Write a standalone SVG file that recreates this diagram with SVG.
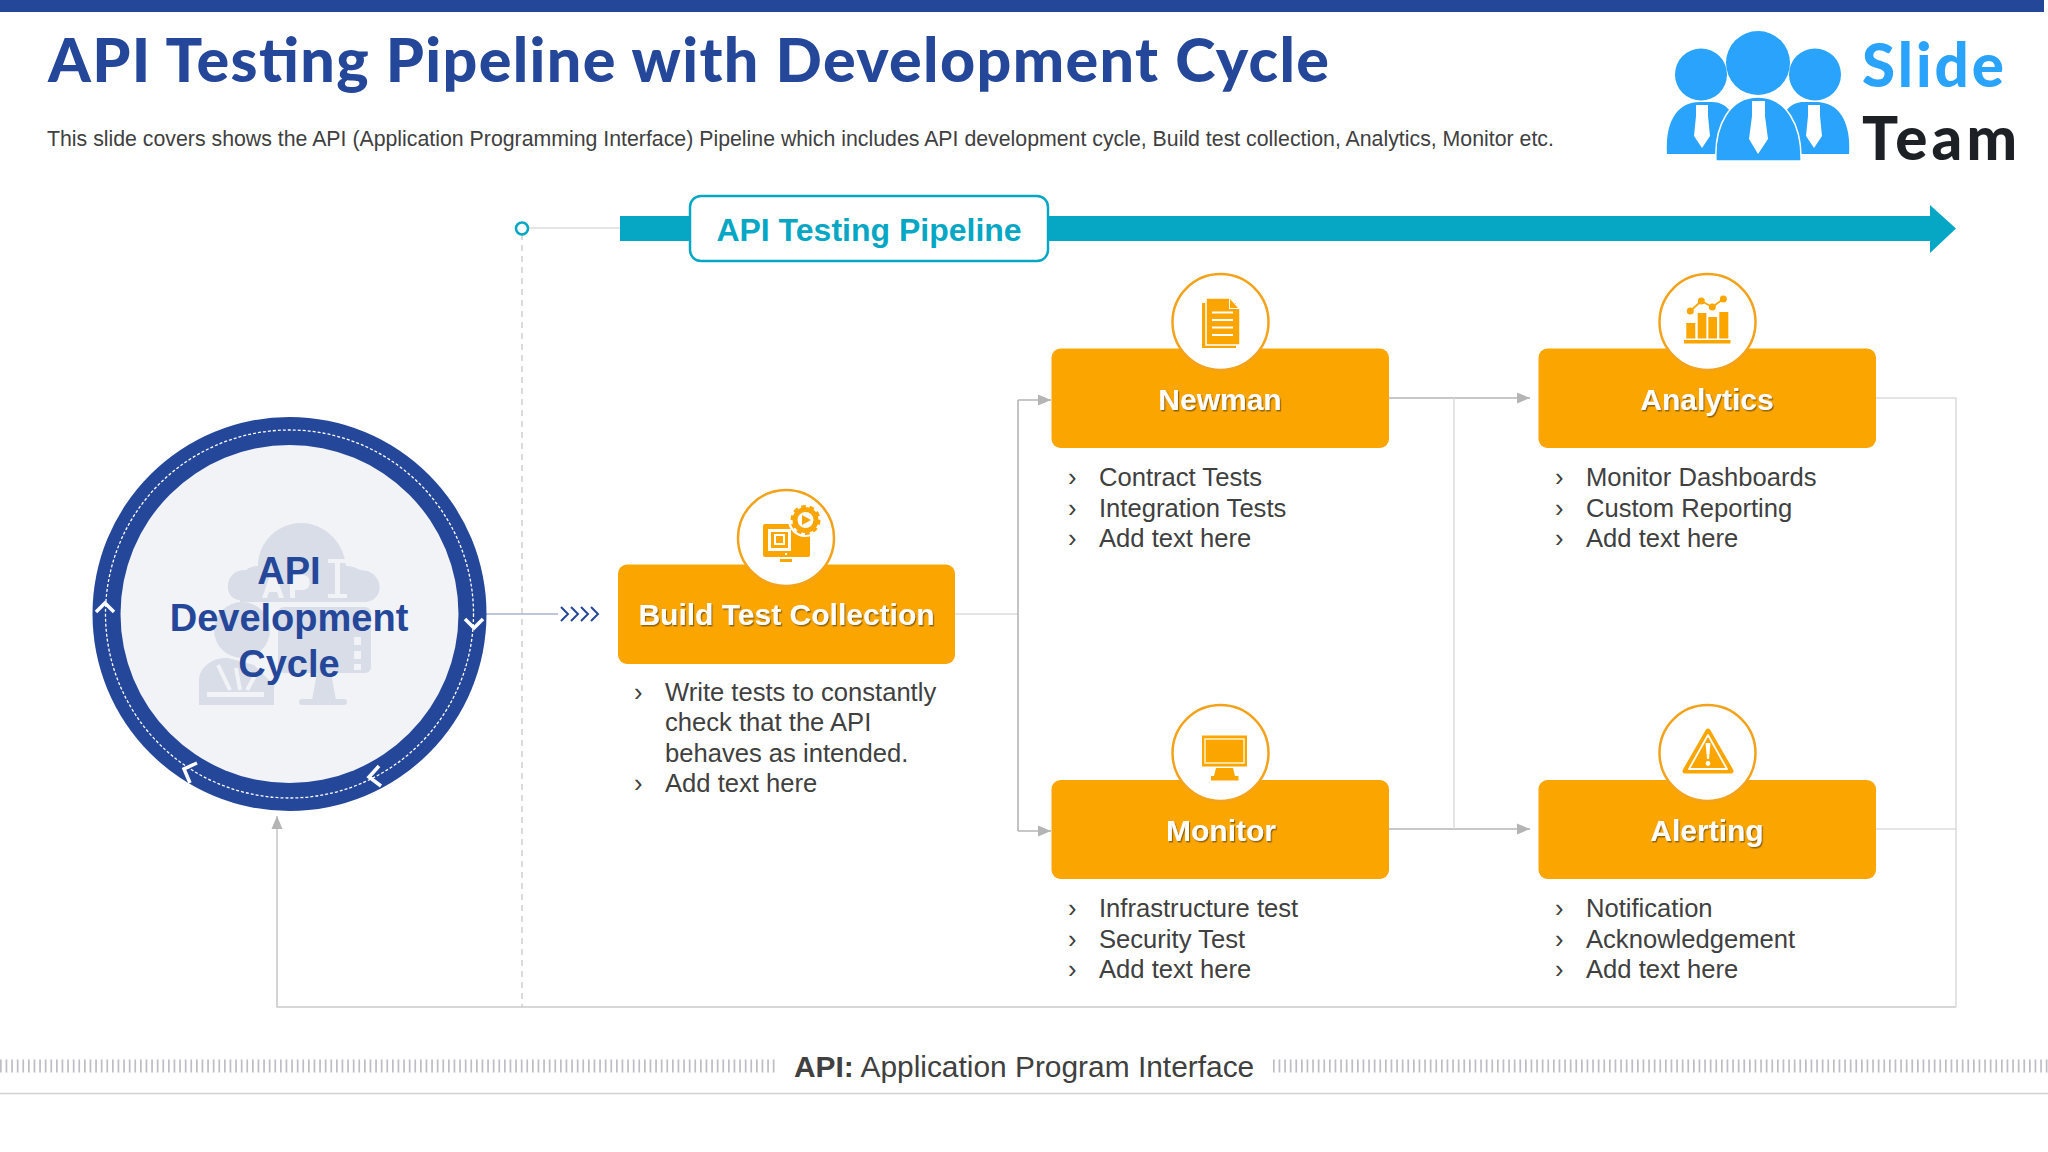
<svg xmlns="http://www.w3.org/2000/svg" width="2048" height="1152" viewBox="0 0 2048 1152">
<style>
text{font-family:"Liberation Sans",Arial,sans-serif}
.box{fill:#faa500}
.halo{fill:#fff;stroke:#f3a21b;stroke-width:2.5}
.ttl{font-weight:700;font-size:30px;fill:#fff;text-anchor:middle;filter:url(#shadow)}
.li{font-size:25.6px;fill:#404040}
.ic{fill:#faa500}
.wl{stroke:#fff;stroke-width:2;fill:none}
.c1{fill:none;stroke:#b4b4b4;stroke-width:1.6}
.c2{fill:none;stroke:#dcdcdc;stroke-width:1.5}
.wm{fill:#d8dde7}
.wk{fill:#f2f3f7}
.chev{fill:none;stroke:#fff;stroke-width:3.5}
.ch2{fill:none;stroke:#24479a;stroke-width:2}
.lg{fill:#29a3fb}
.tie{fill:#fff}
.logot{font-family:Lato,"Noto Sans",sans-serif;font-size:60px;font-weight:900}
</style>
<defs>
<filter id="shadow" x="-10%" y="-20%" width="120%" height="150%"><feDropShadow dx="1.2" dy="1.5" stdDeviation="0.7" flood-color="#7a5200" flood-opacity="0.8"/></filter>
<marker id="ah" markerUnits="userSpaceOnUse" markerWidth="14" markerHeight="14" refX="13" refY="7" orient="auto"><path d="M0,1.500 L13,7 L0,12.500 Z" fill="#b4b4b4"/></marker>
</defs>
<rect width="2044" height="12" fill="#24479a"/>
<text x="48" y="82" font-size="61" font-weight="900" fill="#24479a" textLength="1281" style="font-family:Lato,'Liberation Sans',sans-serif">API Testing Pipeline with Development Cycle</text>
<text x="47" y="146" font-size="21.3" fill="#404040">This slide covers shows the API (Application Programming Interface) Pipeline which includes API development cycle, Build test collection, Analytics, Monitor etc.</text>

<g id="logo">
<circle class="lg" cx="1701" cy="74.5" r="26"/><circle class="lg" cx="1815" cy="74.5" r="26"/><circle class="lg" cx="1758" cy="63" r="32"/>
<path class="lg" d="M1667,154 C1665,125 1675,102 1700,102 L1712,102 C1730,102 1740,120 1740,154 Z"/>
<path class="lg" d="M1849,154 C1851,125 1841,102 1816,102 L1804,102 C1786,102 1776,120 1776,154 Z"/>
<path class="lg" d="M1716,161 C1714,125 1730,97 1758,97 C1786,97 1802,125 1801,161 Z" stroke="#fff" stroke-width="1.5"/>
<path class="tie" d="M1696,105 H1708 V116 L1710,136 L1702,148 L1694,136 L1696,116 Z"/>
<path class="tie" d="M1752,101 H1765 V116 L1768,139 L1758,154 L1749,139 L1752,116 Z"/>
<path class="tie" d="M1808,105 H1820 V116 L1822,136 L1814,148 L1806,136 L1808,116 Z"/>
<text class="logot" x="1862" y="87" fill="#29a3fb" textLength="142">Slide</text>
<text class="logot" x="1862" y="160" fill="#1d2125" textLength="155">Team</text>
</g>

<g id="connectors">
<path class="c2" d="M528,228 H620"/>
<path d="M522,234 V1007" fill="none" stroke="#cfcfcf" stroke-width="1.5" stroke-dasharray="6 5"/>
<path d="M486,614 H558" fill="none" stroke="#aab2d2" stroke-width="1.5"/>
<path class="c2" d="M955,614 H1018"/>
<path class="c1" d="M1018,400 H1051" marker-end="url(#ah)"/>
<path class="c1" d="M1018,400 V831"/>
<path class="c1" d="M1018,831 H1051" marker-end="url(#ah)"/>
<path class="c1" d="M1389,398 H1530" marker-end="url(#ah)"/>
<path class="c1" d="M1389,829 H1530" marker-end="url(#ah)"/>
<path class="c2" d="M1454,398 V829"/>
<path class="c2" d="M1876,398 H1956 V1007"/>
<path class="c2" d="M1876,829 H1956"/>
<path class="c1" d="M1956,1007 H277 V816" style="stroke:#cacaca" marker-end="url(#ah)"/>
</g>

<g id="pipeline">
<rect x="620" y="216" width="1312" height="25" fill="#06a7c4"/>
<path d="M1930,205 L1956,228.500 L1930,253 Z" fill="#06a7c4"/>
<rect x="690" y="196" width="358" height="65" rx="11" fill="#fff" stroke="#06a7c4" stroke-width="2.5"/>
<text x="869" y="241" font-size="32" font-weight="700" fill="#06a7c4" text-anchor="middle">API Testing Pipeline</text>
<circle cx="522" cy="228.500" r="6" fill="#fff" stroke="#06a7c4" stroke-width="2.5"/>
</g>

<g id="cycle">
<circle cx="289.500" cy="614" r="197" fill="#24479a"/>
<circle cx="289.500" cy="614" r="169" fill="#f2f3f7"/>
<circle cx="289.500" cy="614" r="184" fill="none" stroke="#fff" stroke-width="1.3" stroke-dasharray="3 2"/>
<path class="chev" d="M96,612 L105,603 L114,612"/>
<path class="chev" d="M465,619 L474,628 L483,619"/>
<path class="chev" d="M379,766 L369,777 L381,786"/>
<path class="chev" d="M197,763 L184,769 L190,783"/>
<g id="cycle-watermark">
<path class="wm" d="M240,600 C222,600 224,568 246,570 C252,566 256,566 258,566 C258,540 280,523 301,523 C324,523 344,542 346,566 C352,566 356,568 360,570 C384,570 386,600 366,602 L240,602 Z"/>
<rect class="wm" x="278" y="607" width="93" height="66" rx="6"/>
<circle class="wm" cx="242" cy="630" r="28"/>
<path class="wm" d="M199,705 V680 C199,668 212,657 228,658 L254,665 L274,685 V705 Z"/>
<path class="wm" d="M317,673 H331 L336,700 H312 Z"/>
<rect class="wm" x="299" y="699" width="48" height="6" rx="3"/>
<path class="wk" d="M328,559 H347 V563 H340 V594 H347 V598 H328 V594 H335 V563 H328 Z"/>
<path class="wk" d="M262,598 L270,575 H276 L284,598 H279 L277,592 H269 L267,598 Z"/>
<path class="wk" d="M290,598 V575 H303 C312,575 312,590 303,590 H295 V598 Z"/>
<rect class="wk" x="354" y="637" width="7" height="8"/><rect class="wk" x="354" y="651" width="7" height="8"/><rect class="wk" x="354" y="664" width="7" height="6"/>
<path class="wk" d="M207,692 H264 V697 H207 Z"/>
<path d="M218,665 L230,690 M236,668 L240,690 M256,674 L247,690" stroke="#f2f3f7" stroke-width="4" fill="none"/>
</g>
<text x="289" y="584" font-size="38" font-weight="700" fill="#24479a" text-anchor="middle">API</text>
<text x="289" y="631" font-size="38" font-weight="700" fill="#24479a" text-anchor="middle">Development</text>
<text x="289" y="677" font-size="38" font-weight="700" fill="#24479a" text-anchor="middle">Cycle</text>
</g>
<g id="cycle-chevrons">
<path class="ch2" d="M561,607 L568,614 L561,621 M571,607 L578,614 L571,621 M581,607 L588,614 L581,621 M591,607 L598,614 L591,621"/>
</g>

<g id="build">
<rect class="box" x="618" y="564.500" width="337" height="99.500" rx="9"/>
<circle class="halo" cx="786" cy="538" r="48"/>
<rect class="ic" x="763" y="524" width="47" height="33" rx="2"/>
<rect x="768" y="529" width="23" height="22" fill="#fff"/>
<rect x="771" y="532" width="17" height="16" class="ic"/>
<rect x="774" y="534" width="11" height="11" fill="#fff"/><rect x="776" y="536" width="7" height="7" class="ic"/>
<rect x="785" y="553" width="2" height="2" fill="#fff"/>
<rect class="ic" x="780" y="559" width="12" height="3"/>
<circle cx="805" cy="520" r="17" fill="#fff"/>
<circle cx="805.500" cy="520" r="10.500" fill="none" stroke="#faa500" stroke-width="5"/>
<circle cx="805.500" cy="520" r="13" fill="none" stroke="#faa500" stroke-width="4" stroke-dasharray="4.500 3.600"/>
<path class="ic" d="M802,515 L811,520 L802,525 Z"/>
<text class="ttl" x="786.500" y="625">Build Test Collection</text>
<text class="li" x="634" y="701">›</text><text class="li" x="665" y="701">Write tests to constantly</text>
<text class="li" x="665" y="731">check that the API</text>
<text class="li" x="665" y="762">behaves as intended.</text>
<text class="li" x="634" y="792">›</text><text class="li" x="665" y="792">Add text here</text>
</g>

<g id="newman">
<rect class="box" x="1051.500" y="348.500" width="337.500" height="99.500" rx="9"/>
<circle class="halo" cx="1220.500" cy="322" r="48"/>
<rect class="ic" x="1202" y="303" width="34" height="45"/>
<path d="M1206,298 H1229 L1240,309 V345 H1206 Z" fill="#faa500" stroke="#fff" stroke-width="1.500"/>
<path d="M1229,299 L1239,309 H1229 Z" fill="#fff"/>
<path d="M1230,299 L1238,308 H1230 Z" class="ic"/>
<path class="wl" d="M1212,312.500 H1233 M1212,320 H1233 M1212,327.500 H1233 M1212,335 H1233"/>
<text class="ttl" x="1220" y="410">Newman</text>
<text class="li" x="1068" y="486">›</text><text class="li" x="1099" y="486">Contract Tests</text>
<text class="li" x="1068" y="517">›</text><text class="li" x="1099" y="517">Integration Tests</text>
<text class="li" x="1068" y="547">›</text><text class="li" x="1099" y="547">Add text here</text>
</g>

<g id="analytics">
<rect class="box" x="1538.500" y="348.500" width="337.500" height="99.500" rx="9"/>
<circle class="halo" cx="1707.500" cy="322" r="48"/>
<rect class="ic" x="1684" y="340" width="46.500" height="3.500"/>
<rect class="ic" x="1686.300" y="323" width="9" height="15.500"/>
<rect class="ic" x="1697.700" y="313" width="8.700" height="25.500"/>
<rect class="ic" x="1708.300" y="317" width="8.700" height="21.500"/>
<rect class="ic" x="1719.300" y="312" width="9" height="26.500"/>
<path d="M1690.300,311 L1701.300,301 L1712.300,307 L1723.300,299" fill="none" stroke="#faa500" stroke-width="1.800"/>
<circle class="ic" cx="1690.300" cy="311" r="3.500"/><circle class="ic" cx="1701.300" cy="301" r="3.500"/><circle class="ic" cx="1712.300" cy="307" r="3.500"/><circle class="ic" cx="1723.300" cy="299" r="3.500"/>
<text class="ttl" x="1707" y="410">Analytics</text>
<text class="li" x="1555" y="486">›</text><text class="li" x="1586" y="486">Monitor Dashboards</text>
<text class="li" x="1555" y="517">›</text><text class="li" x="1586" y="517">Custom Reporting</text>
<text class="li" x="1555" y="547">›</text><text class="li" x="1586" y="547">Add text here</text>
</g>

<g id="monitor">
<rect class="box" x="1051.500" y="780" width="337.500" height="99" rx="9"/>
<circle class="halo" cx="1220.500" cy="753" r="48"/>
<rect class="ic" x="1202" y="735.500" width="45" height="31"/>
<rect x="1205" y="739" width="39" height="24" fill="none" stroke="#fff4c8" stroke-width="1.500"/>
<path class="ic" d="M1216,768 H1233 L1235,776 H1238.500 V780.500 H1211 V776 H1214 Z"/>
<text class="ttl" x="1221" y="841">Monitor</text>
<text class="li" x="1068" y="917">›</text><text class="li" x="1099" y="917">Infrastructure test</text>
<text class="li" x="1068" y="948">›</text><text class="li" x="1099" y="948">Security Test</text>
<text class="li" x="1068" y="978">›</text><text class="li" x="1099" y="978">Add text here</text>
</g>

<g id="alerting">
<rect class="box" x="1538.500" y="780" width="337.500" height="99" rx="9"/>
<circle class="halo" cx="1707.500" cy="753" r="48"/>
<path d="M1708,731 L1731,771 H1685 Z" fill="#faa500" stroke="#faa500" stroke-width="5" stroke-linejoin="round"/>
<path d="M1708,735 L1727,769 H1689 Z" fill="#faa500" stroke="#fff" stroke-width="1.800" stroke-linejoin="round"/>
<path d="M1705.500,743 H1710.500 L1709,759 H1707 Z" fill="#fff"/>
<circle cx="1708" cy="763.500" r="2.400" fill="#fff"/>
<text class="ttl" x="1707" y="841">Alerting</text>
<text class="li" x="1555" y="917">›</text><text class="li" x="1586" y="917">Notification</text>
<text class="li" x="1555" y="948">›</text><text class="li" x="1586" y="948">Acknowledgement</text>
<text class="li" x="1555" y="978">›</text><text class="li" x="1586" y="978">Add text here</text>
</g>

<g id="footer">
<path d="M0,1066 H777 M1273,1066 H2048" fill="none" stroke="#bdbdc4" stroke-width="13" stroke-dasharray="1.700 3.900"/>
<path d="M0,1093.500 H2048" stroke="#d2d2d2" stroke-width="1.500"/>
<text x="794" y="1077" font-size="29.900" fill="#404040"><tspan font-weight="700">API:</tspan> Application Program Interface</text>
</g>
</svg>
